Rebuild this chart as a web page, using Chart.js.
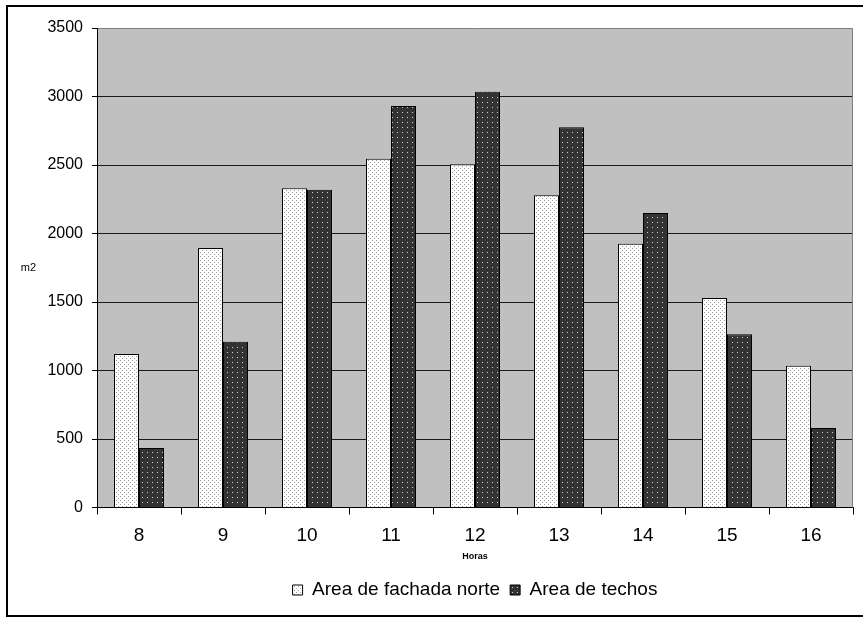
<!DOCTYPE html>
<html>
<head>
<meta charset="utf-8">
<script src="https://cdn.jsdelivr.net/npm/chart.js@4"></script>
<style>
  html, body { margin: 0; padding: 0; background: #ffffff; }
  canvas { display: block; }
</style>
</head>
<body>
<canvas id="chart" width="863" height="617"></canvas>
<script>
// Horas del día (eje X)
const horas = ['8', '9', '10', '11', '12', '13', '14', '15', '16'];
// Área en m2 por hora
const areaFachadaNorte = [1120, 1895, 2330, 2545, 2505, 2280, 1925, 1530, 1035];
const areaTechos = [435, 1210, 2320, 2930, 3035, 2775, 2150, 1265, 580];
// Marcas del eje Y
const yTicks = [0, 500, 1000, 1500, 2000, 2500, 3000, 3500];

const FONT = "'Liberation Sans', Arial, sans-serif";

// Tramas punteadas para las barras
function makePattern(size, bg, dot, dots) {
  const c = document.createElement('canvas');
  c.width = size[0];
  c.height = size[1];
  const g = c.getContext('2d');
  g.fillStyle = bg;
  g.fillRect(0, 0, c.width, c.height);
  g.fillStyle = dot;
  dots.forEach(([x, y]) => g.fillRect(x, y, 1, 1));
  return g.createPattern(c, 'repeat');
}
const ctx = document.getElementById('chart').getContext('2d');
const patFachada = makePattern([4, 4], '#ffffff', '#9a9a9a', [[0, 0], [2, 2]]);
const patTechos = makePattern([5, 5], '#333333', '#d0d0d0', [[2, 2]]);

// Fondo gris del área de trazado, borde derecho y marco exterior
const decor = {
  id: 'decor',
  beforeDraw(chart) {
    const a = chart.chartArea;
    const c = chart.ctx;
    c.save();
    c.fillStyle = '#c0c0c0';
    c.fillRect(a.left, a.top, a.right - a.left, a.bottom - a.top);
    c.restore();
  },
  beforeDatasetsDraw(chart) {
    const a = chart.chartArea;
    const c = chart.ctx;
    c.save();
    c.strokeStyle = '#808080';
    c.lineWidth = 1;
    c.beginPath();
    c.moveTo(a.right - 0.5, a.top);
    c.lineTo(a.right - 0.5, a.bottom);
    c.stroke();
    c.restore();
  },
  afterDraw(chart) {
    const c = chart.ctx;
    const a = chart.chartArea;
    c.save();
    // títulos de ejes
    c.fillStyle = '#000';
    c.textAlign = 'center';
    c.textBaseline = 'middle';
    c.font = '11px ' + FONT;
    c.fillText('m2', 28.5, 268);
    c.font = 'bold 9px ' + FONT;
    c.fillText('Horas', (a.left + a.right) / 2, 557);
    // marco exterior
    c.fillStyle = '#000';
    c.fillRect(6, 5, 2, 612);
    c.fillRect(6, 5, 857, 2);
    c.fillRect(6, 615, 857, 2);
    c.restore();
  }
};

new Chart(ctx, {
  type: 'bar',
  data: {
    labels: horas,
    datasets: [
      {
        label: 'Area de fachada norte',
        data: areaFachadaNorte,
        backgroundColor: patFachada,
        borderColor: '#000',
        borderWidth: 1
      },
      {
        label: 'Area de techos',
        data: areaTechos,
        backgroundColor: patTechos,
        borderColor: '#000',
        borderWidth: 1
      }
    ]
  },
  options: {
    responsive: false,
    animation: false,
    devicePixelRatio: 1,
    categoryPercentage: 50 / 84,
    barPercentage: 1,
    layout: { padding: { top: 28, right: 10, bottom: 7.5, left: 0 } },
    plugins: {
      tooltip: { enabled: false },
      legend: {
        position: 'bottom',
        fullSize: false,
        labels: {
          boxWidth: 10,
          boxHeight: 10,
          padding: 10,
          color: '#000',
          font: { family: FONT, size: 19 }
        }
      }
    },
    scales: {
      x: {
        afterFit(scale) { scale.height = 63; },
        grid: {
          offset: true,
          drawOnChartArea: false,
          drawTicks: true,
          tickLength: 7,
          color: '#000'
        },
        border: { color: '#000', width: 1 },
        ticks: {
          color: '#000',
          padding: 10,
          maxRotation: 0,
          font: { family: FONT, size: 19 }
        }
      },
      y: {
        min: 0,
        max: 3500,
        afterFit(scale) { scale.width = 97; },
        afterBuildTicks(scale) { scale.ticks = yTicks.map(v => ({ value: v })); },
        grid: {
          color: c => (c.tick && c.tick.value === 3500 ? '#808080' : '#1a1a1a'),
          tickColor: '#000',
          lineWidth: 1,
          tickLength: 5
        },
        border: { color: '#000', width: 1 },
        ticks: {
          color: '#000',
          padding: 9,
          font: { family: FONT, size: 16 },
          callback: v => String(v)
        }
      }
    }
  },
  plugins: [decor]
});
</script>
</body>
</html>
